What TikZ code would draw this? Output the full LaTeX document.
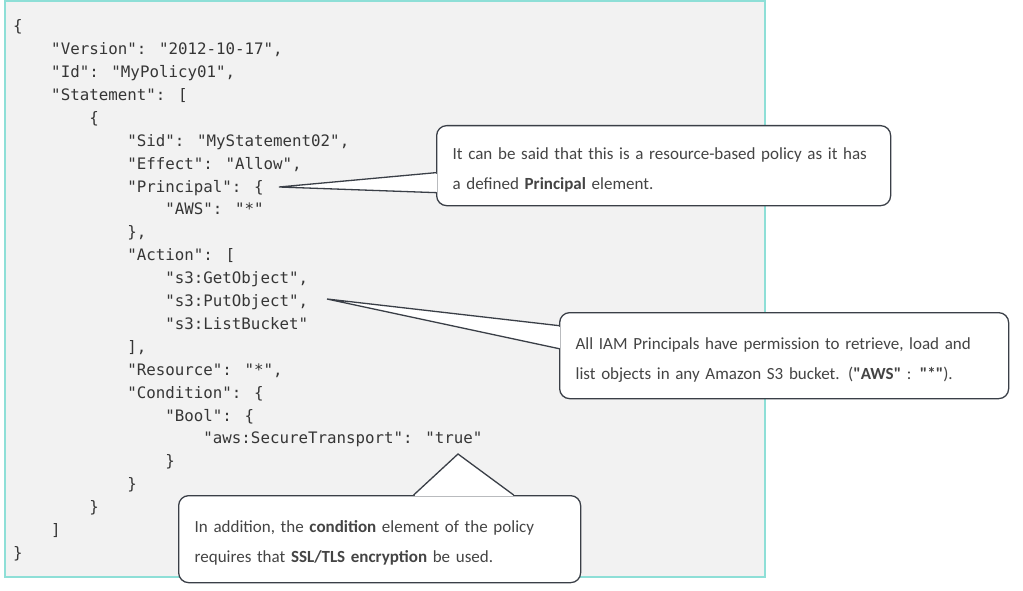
\documentclass[tikz,border=0pt]{standalone}
\usepackage{fontspec}
\setmainfont{Carlito}[Ligatures=TeXOff]
\newfontfamily\codefont{DejaVu Sans Mono}
\usetikzlibrary{calc}

\definecolor{panelfill}{HTML}{F2F2F2}
\definecolor{panelline}{HTML}{8EDFD7}
\definecolor{codegray}{HTML}{363636}
\definecolor{notegray}{HTML}{3A3F47}
\definecolor{notetext}{HTML}{444444}

\tikzset{
  panel/.style={draw=panelline, fill=panelfill, line width=1.5pt},
  code/.style={inner sep=0pt, align=left, text=codegray,
    font=\codefont\fontsize{15.8}{22.9}\selectfont},
  note/.style={draw=notegray, fill=white, line width=1.3pt, rounded corners=10pt,
    inner xsep=16pt, inner ysep=0pt, align=left, anchor=north west, text=notetext,
    font=\fontsize{17}{30}\selectfont},
  wedge/.style={draw=notegray, line width=1.3pt, line join=miter},
}
\newcommand\ind[1]{\hspace*{#1\dimexpr2.408em\relax}}
\newcommand\notestrut{\rule{0pt}{20pt}}
% callout pointer: tip, base a, base b
\newcommand\pointer[3]{%
  \fill[white] (#1) -- (#2) -- (#3) -- cycle;
  \draw[white, line width=2.6pt, shorten <=1pt, shorten >=1pt] (#2) -- (#3);
  \draw[wedge] (#2) -- (#1) -- (#3);
}

\begin{document}
\begin{tikzpicture}[x=1pt, y=-1pt]
\useasboundingbox (0,0) rectangle (1023,591);
\draw[panel] (5,0.8) rectangle (765,577);

\node[code, anchor=north west] (policy) at (13,19.5) {
\{\\
\ind1"Version": "2012-10-17",\\
\ind1"Id": "MyPolicy01",\\
\ind1"Statement": [\\
\ind2\{\\
\ind3"Sid": "MyStatement02",\\
\ind3"Effect": "Allow",\\
\ind3"Principal": \{\\
\ind4"AWS": "*"\\
\ind3\},\\
\ind3"Action": [\\
\ind4"s3:GetObject",\\
\ind4"s3:PutObject",\\
\ind4"s3:ListBucket"\\
\ind3],\\
\ind3"Resource": "*",\\
\ind3"Condition": \{\\
\ind4"Bool": \{\\
\ind5"aws:SecureTransport": "true"\\
\ind4\}\\
\ind3\}\\
\ind2\}\\
\ind1]\\
\}
};

% tips of the pointers
\coordinate (principalTip) at (279,187);
\coordinate (actionTip) at (327,299);
\coordinate (conditionTip) at (458,454);

\node[note, minimum width=454, minimum height=80, text width=422] (principalNote) at (436,125)
  {\notestrut It can be said that this is a resource-based policy as it has\\
   a defined \textbf{Principal} element.};
\node[note, minimum width=449, minimum height=86, text width=417] (actionNote) at (559,312)
  {\notestrut All IAM Principals have permission to retrieve, load and\\
   list objects in any Amazon S3 bucket. (\textbf{"AWS"} : \textbf{"*"}).};
\node[note, minimum width=402, minimum height=87, text width=370] (conditionNote) at (178,495)
  {\notestrut In addition, the \textbf{condition} element of the policy\\
   requires that \textbf{SSL/TLS encryption} be used.};

\coordinate (principalA) at ([yshift=-7pt]principalNote.west);
\coordinate (principalB) at ([yshift=-27pt]principalNote.west);
\coordinate (actionA) at ([yshift=30pt]actionNote.west);
\coordinate (actionB) at ([yshift=7pt]actionNote.west);
\coordinate (conditionA) at ([xshift=34pt]conditionNote.north);
\coordinate (conditionB) at ([xshift=134pt]conditionNote.north);

\pointer{principalTip}{principalA}{principalB}
\pointer{actionTip}{actionA}{actionB}
\pointer{conditionTip}{conditionA}{conditionB}

\end{tikzpicture}
\end{document}
